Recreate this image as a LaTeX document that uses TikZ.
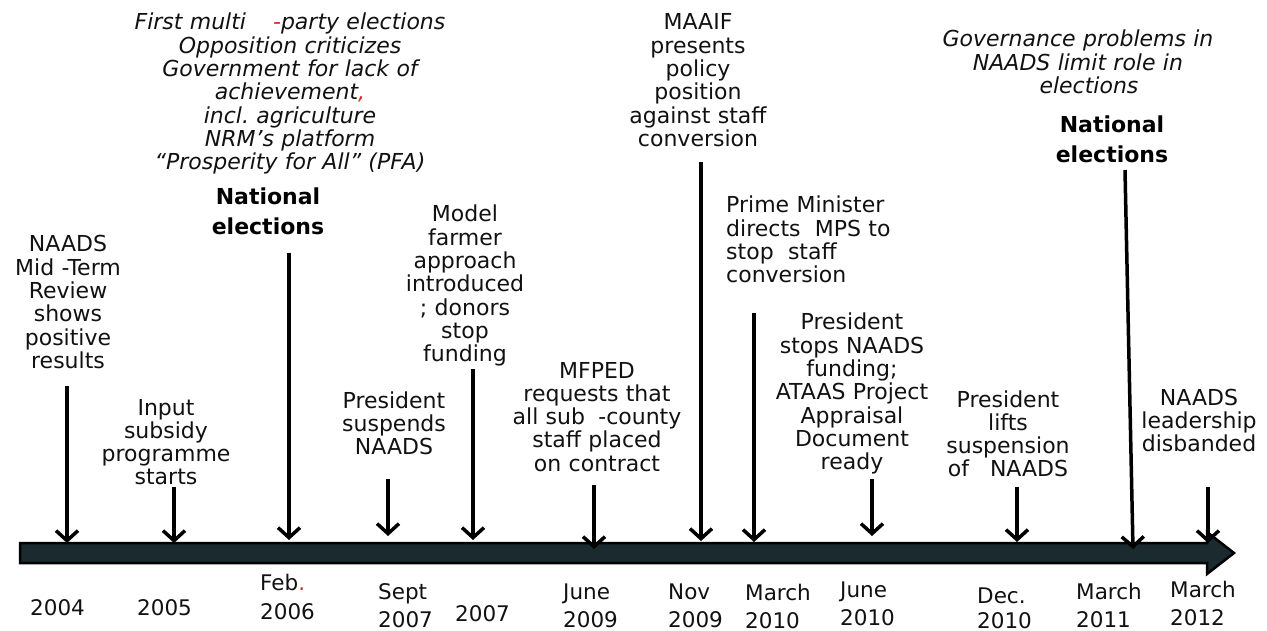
\documentclass[tikz,border=0pt]{standalone}
\usepackage{fontspec}
\setmainfont{DejaVu Sans}
\usetikzlibrary{arrows.meta}
\frenchspacing
\definecolor{barfill}{HTML}{1A2A2E}
\definecolor{redmark}{HTML}{D62828}
\definecolor{ink}{HTML}{111111}
\tikzset{
  lab/.style={font=\fontsize{22}{23.3}\selectfont, text=ink, align=center, text width=330pt, inner sep=0pt, anchor=base},
  itlab/.style={lab, font=\fontsize{22}{23.3}\selectfont\itshape},
  bdlab/.style={lab, font=\fontsize{22}{30}\selectfont\bfseries, text=black},
  leftlab/.style={lab, align=left, anchor=base west},
  datelab/.style={font=\fontsize{21.5}{28}\selectfont, text=ink, align=left, text width=100pt, inner sep=0pt, anchor=base west},
  evarrow/.style={line width=3.5pt, draw=black, -{Straight Barb[length=10pt,width=22pt]}},
  timebar/.style={draw=black, line width=2.5pt, fill=barfill, line join=miter},
}
\begin{document}
\begin{tikzpicture}[x=1pt, y=-1pt]
\useasboundingbox (0,0) rectangle (1267,631);

% timeline bar
\draw[timebar] (20,543) -- (1207,543) -- (1207,532) -- (1234,553) -- (1207,574) -- (1207,563) -- (20,563) -- cycle;

% event labels
\node[lab] (nmt) at (68,252) {NAADS\\Mid -Term\\Review\\shows\\positive\\results};
\node[lab] (inp) at (166,415) {Input\\subsidy\\programme\\starts};
\node[itlab] (pfa) at (290,30) {First multi\hspace{27pt}{\color{redmark}-}party elections\\Opposition criticizes\\Government for lack of\\achievement{\color{redmark},}\\incl. agriculture\\NRM’s platform\\“Prosperity for All” (PFA)};
\node[bdlab] (el1) at (268,205) {National\\elections};
\node[lab] (sus) at (394,408) {President\\suspends\\NAADS};
\node[lab] (mod) at (465,222) {Model\\farmer\\approach\\introduced\\; donors\\stop\\funding};
\node[lab] (mfp) at (597,378) {MFPED\\requests that\\all sub\hspace{0.6em}-county\\staff placed\\on contract};
\node[lab] (maa) at (698,30) {MAAIF\\presents\\policy\\position\\against staff\\conversion};
\node[leftlab] (pm) at (726,213) {Prime Minister\\directs\hspace{0.65em}MPS to\\stop\hspace{0.65em}staff\\conversion};
\node[lab] (stp) at (852,330) {President\\stops NAADS\\funding;\\ATAAS Project\\Appraisal\\Document\\ready};
\node[lab] (lif) at (1008,407) {President\\lifts\\suspension\\of\hspace{0.95em}NAADS};
\node[itlab] (gov) at (1078,47) {Governance problems in\\NAADS limit role in\\\hspace*{22pt}elections};
\node[bdlab] (el2) at (1112,133) {National\\elections};
\node[lab] (lead) at (1199,405) {NAADS\\leadership\\disbanded};

% dates
\node[datelab] (d1) at (30,615) {2004};
\node[datelab] (d2) at (137,615) {2005};
\node[datelab, font=\fontsize{21.5}{29}\selectfont] (d3) at (260,590) {Feb{\color{redmark}.}\\2006};
\node[datelab] (d4) at (378,599) {Sept\\2007};
\node[datelab] (d5) at (455,621) {2007};
\node[datelab] (d6) at (563,599) {June\\2009};
\node[datelab] (d7) at (668,599) {Nov\\2009};
\node[datelab] (d8) at (745,600) {March\\2010};
\node[datelab] (d9) at (840,597) {June\\2010};
\node[datelab, font=\fontsize{21.5}{25}\selectfont] (d10) at (977,603) {Dec.\\2010};
\node[datelab] (d11) at (1076,599) {March\\2011};
\node[datelab] (d12) at (1170,597) {March\\2012};

% arrow end points
\coordinate (s1) at (67,386);   \coordinate (e1) at (67,543);
\coordinate (s2) at (174,487);  \coordinate (e2) at (174,543);
\coordinate (s3) at (289,253);  \coordinate (e3) at (289,540);
\coordinate (s4) at (388,479);  \coordinate (e4) at (388,536);
\coordinate (s5) at (473,369);  \coordinate (e5) at (473,540);
\coordinate (s6) at (594,485);  \coordinate (e6) at (594,549);
\coordinate (s7) at (701,162);  \coordinate (e7) at (701,541);
\coordinate (s8) at (754,313);  \coordinate (e8) at (754,542);
\coordinate (s9) at (872,479);  \coordinate (e9) at (872,536);
\coordinate (s10) at (1017,487); \coordinate (e10) at (1017,542);
\coordinate (s11) at (1125,170); \coordinate (e11) at (1133,549);
\coordinate (s12) at (1208,487); \coordinate (e12) at (1208,543);

\foreach \i in {1,...,12} {\draw[evarrow] (s\i) -- (e\i);}
\end{tikzpicture}
\end{document}
